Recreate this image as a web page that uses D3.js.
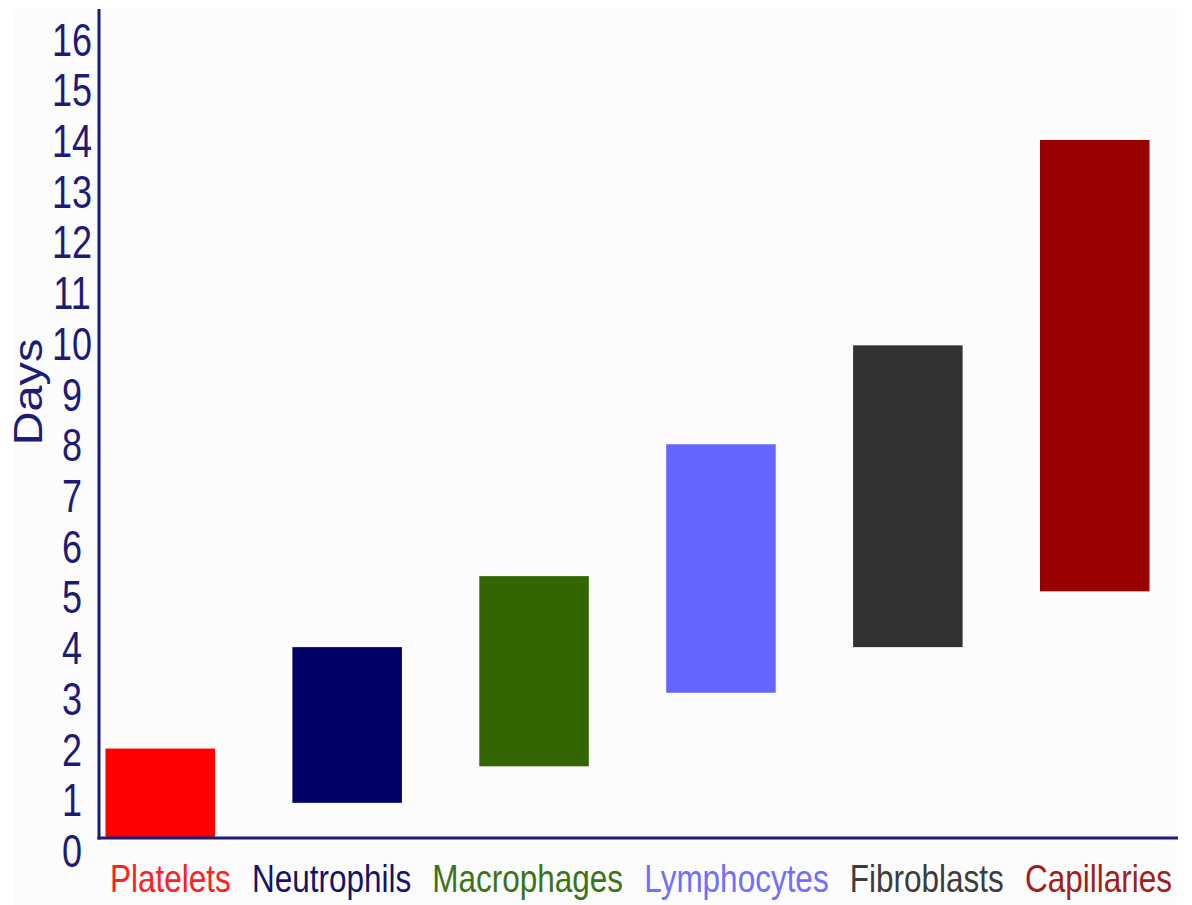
<!DOCTYPE html>
<html>
<head>
<meta charset="utf-8">
<script src="https://cdn.jsdelivr.net/npm/d3@7"></script>
<style>
  html, body { margin: 0; padding: 0; background: #ffffff; }
  svg { display: block; }
  text { font-family: "Liberation Sans", Arial, sans-serif; }
</style>
</head>
<body>
<svg id="chart" width="1192" height="905"></svg>
<script>
// Time window (days) of each cell type in wound healing
const cellTypes  = ["Platelets", "Neutrophils", "Macrophages", "Lymphocytes", "Fibroblasts", "Capillaries"];
const startDays  = [0, 0.93, 1.65, 3.1, 4.0, 5.1];
const endDays    = [2, 4.0, 5.4, 8.0, 9.95, 14.0];
const barColors  = ["#ff0000", "#000066", "#336600", "#6666ff", "#333333", "#990000"];
const labelColors = ["#ff2020", "#14146a", "#3a7418", "#6f6fff", "#3c3c3c", "#a51c1c"];
const dayTicks   = d3.range(0, 17);

const W = 1192, H = 905;
const axisX = 99, axisY = 838, axisTop = 9, axisRight = 1178;
const labelLeft = 110, labelRight = 1172;
const ink = "#1c1c78";

const svg = d3.select("#chart");

// pale panel
svg.append("rect")
  .attr("x", 14).attr("y", 9).attr("width", 1163).attr("height", 896)
  .attr("fill", "#fcfcfd");

const y = d3.scaleLinear().domain([0, 16]).range([850, 38.5]);
const x = d3.scaleBand()
  .domain(cellTypes)
  .range([66.8, 1188.2])
  .paddingInner(0.414)
  .paddingOuter(0.207);

// bars are clipped at the horizontal axis
svg.append("clipPath").attr("id", "plot-clip")
  .append("rect")
  .attr("x", axisX).attr("y", 0)
  .attr("width", W - axisX).attr("height", axisY);

const rows = cellTypes.map((c, i) => ({ c, s: startDays[i], e: endDays[i], col: barColors[i] }));

svg.append("g").attr("clip-path", "url(#plot-clip)")
  .selectAll("rect.bar")
  .data(rows)
  .join("rect")
  .attr("class", "bar")
  .attr("x", d => x(d.c))
  .attr("width", x.bandwidth())
  .attr("y", d => y(d.e))
  .attr("height", d => y(d.s) - y(d.e))
  .attr("fill", d => d.col);

// axis lines
svg.append("line")
  .attr("x1", axisX).attr("x2", axisX)
  .attr("y1", axisTop).attr("y2", axisY + 1.5)
  .attr("stroke", ink).attr("stroke-width", 3);
svg.append("line")
  .attr("x1", axisX - 1.5).attr("x2", axisRight)
  .attr("y1", axisY).attr("y2", axisY)
  .attr("stroke", ink).attr("stroke-width", 3);

// y tick labels (tall, centred digits)
const yAxis = svg.append("g")
  .call(d3.axisLeft(y).tickValues(dayTicks).tickSize(0).tickFormat(d3.format("d")));
yAxis.select(".domain").remove();
yAxis.selectAll("text")
  .attr("x", 72)
  .attr("dy", "0.358em")
  .attr("text-anchor", "middle")
  .attr("fill", ink)
  .style("font-size", "36px")
  .style("font-family", "'Liberation Sans', Arial, sans-serif")
  .attr("transform", "scale(1,1.28)");

// category labels, laid out left to right with even gaps between them
const catLabels = svg.append("g")
  .selectAll("text.cat")
  .data(cellTypes)
  .join("text")
  .attr("class", "cat")
  .attr("fill", (d, i) => labelColors[i])
  .style("font-size", "31.5px")
  .text(d => d);

const widths = catLabels.nodes().map(n => n.getComputedTextLength());
const gap = (labelRight - labelLeft - d3.sum(widths)) / (widths.length - 1);
let cursor = labelLeft;
catLabels.each(function (d, i) {
  d3.select(this).attr("transform", `translate(${cursor},${axisY + 54}) scale(1,1.25)`);
  cursor += widths[i] + gap;
});

// y axis title
svg.append("text")
  .attr("transform", "translate(42,392) rotate(-90) scale(1.17,1)")
  .attr("text-anchor", "middle")
  .attr("fill", ink)
  .style("font-size", "40px")
  .text("Days");
</script>
</body>
</html>
